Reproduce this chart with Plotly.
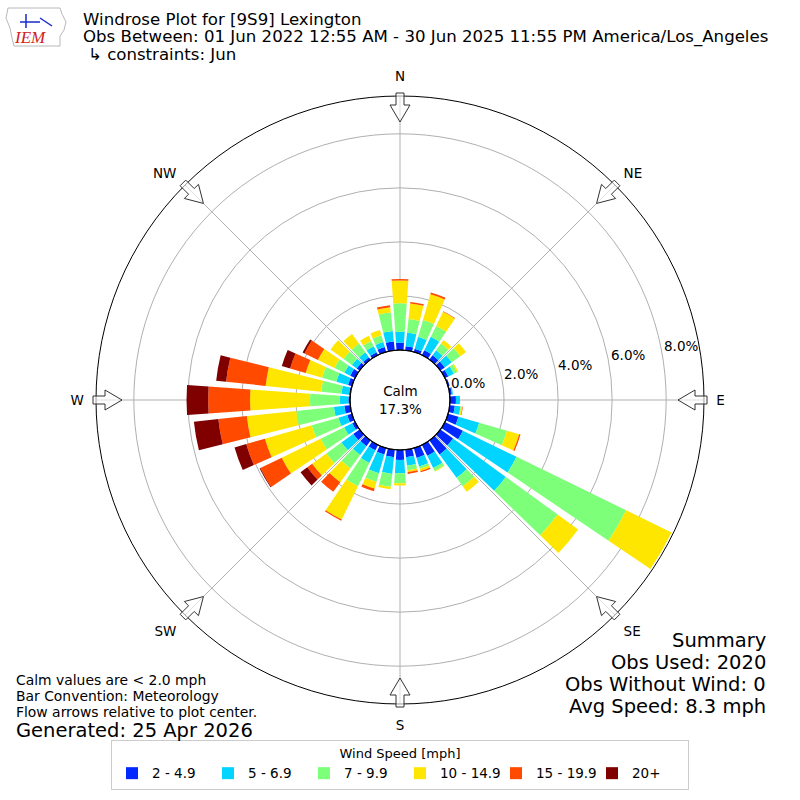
import math

import plotly.graph_objects as go

# wind directions (degrees, meteorological) and percent frequency per speed bin
directions = list(range(0, 360, 10))

speed_bins = ["2 - 4.9", "5 - 6.9", "7 - 9.9", "10 - 14.9", "15 - 19.9", "20+"]
bin_colors = ["#0028ff", "#00d4ff", "#7dff7a", "#ffe600", "#ff4a00", "#800000"]

pct_2_5 = [0.27, 0.15, 0.12, 0.20, 0.20, 0.20, 0.14, 0.06, 0.08, 0.22, 0.19, 0.40,
           0.74, 0.58, 0.64, 0.45, 0.38, 0.28, 0.37, 0.28, 0.25, 0.22, 0.26, 0.29,
           0.12, 0.18, 0.22, 0.06, 0.05, 0.15, 0.20, 0.13, 0.11, 0.12, 0.19, 0.33]
pct_5_7 = [0.41, 0.51, 0.46, 0.55, 0.22, 0.32, 0.23, 0.00, 0.04, 0.15, 0.21, 0.80,
           2.21, 2.41, 1.07, 0.50, 0.33, 0.31, 0.49, 0.62, 0.72, 0.52, 0.40, 0.54,
           0.33, 0.34, 0.39, 0.31, 0.28, 0.45, 0.24, 0.22, 0.22, 0.24, 0.19, 0.39]
pct_7_10 = [1.05, 0.50, 0.65, 0.45, 0.31, 0.39, 0.13, 0.00, 0.00, 0.00, 0.02, 1.07,
            4.51, 2.37, 0.39, 0.12, 0.09, 0.17, 0.37, 0.48, 0.33, 0.96, 0.61, 0.69,
            0.97, 1.03, 1.40, 1.11, 0.75, 0.55, 0.41, 0.38, 0.40, 0.22, 0.26, 0.69]
pct_10_15 = [0.84, 0.58, 0.99, 0.58, 0.16, 0.26, 0.05, 0.00, 0.00, 0.00, 0.05, 0.47,
             1.87, 0.94, 0.25, 0.03, 0.08, 0.07, 0.08, 0.09, 0.26, 1.37, 0.64, 0.65,
             1.60, 1.80, 1.84, 2.22, 2.07, 0.63, 0.68, 0.60, 0.44, 0.21, 0.20, 0.19]
pct_15_20 = [0.06, 0.06, 0.07, 0.02, 0.00, 0.00, 0.00, 0.00, 0.00, 0.00, 0.02, 0.05,
             0.00, 0.00, 0.00, 0.00, 0.05, 0.07, 0.00, 0.00, 0.10, 0.05, 0.44, 0.22,
             0.88, 0.72, 1.06, 1.55, 1.47, 0.60, 0.55, 0.00, 0.00, 0.00, 0.00, 0.08]
pct_20p = [0.00, 0.00, 0.00, 0.00, 0.00, 0.00, 0.00, 0.00, 0.00, 0.00, 0.00, 0.00,
           0.00, 0.00, 0.00, 0.00, 0.00, 0.00, 0.00, 0.00, 0.00, 0.00, 0.00, 0.31,
           0.03, 0.45, 0.91, 0.80, 0.37, 0.32, 0.08, 0.00, 0.00, 0.00, 0.00, 0.00]

compass_angles = [0, 45, 90, 135, 180, 225, 270, 315]
compass_labels = ["N", "NE", "E", "SE", "S", "SW", "W", "NW"]
radial_ticks = [0, 2, 4, 6, 8]
r_max = 9.4

calm_pct = 17.3
summary_lines = ["Summary", "Obs Used: 2020", "Obs Without Wind: 0",
                 "Avg Speed: 8.3 mph"]
note_lines = ["Calm values are < 2.0 mph", "Bar Convention: Meteorology",
              "Flow arrows relative to plot center."]
title_lines = ["Windrose Plot for [9S9] Lexington",
               "Obs Between: 01 Jun 2022 12:55 AM - 30 Jun 2025 11:55 PM America/Los_Angeles",
               "↳ constraints: Jun"]

FONT = "DejaVu Sans"
W = H = 800
CX, CY, R_OUT, R_HOLE = 400, 400, 304, 50


def px(x, y):
    # pixel (from top-left) -> paper coords
    return x / W, 1 - y / H


fig = go.Figure()
series = [pct_2_5, pct_5_7, pct_7_10, pct_10_15, pct_15_20, pct_20p]
for name, color, vals in zip(speed_bins, bin_colors, series):
    fig.add_trace(go.Barpolar(
        r=vals, theta=directions, width=8, name=name,
        marker=dict(color=color, line=dict(width=0)),
    ))

# flow arrows at compass points, straddling the outer circle
shapes = []
for ang in compass_angles:
    a = math.radians(ang)
    ux, uy = math.sin(a), -math.cos(a)
    vx, vy = math.cos(a), math.sin(a)
    pts = [(307, -4), (295, -4), (295, -10), (278, 0), (295, 10), (295, 4), (307, 4)]
    path = ""
    for i, (r, w) in enumerate(pts):
        x, y = px(CX + r * ux + w * vx, CY + r * uy + w * vy)
        path += ("M" if i == 0 else "L") + f"{x:.5f},{y:.5f} "
    shapes.append(dict(type="path", path=path + "Z", xref="paper", yref="paper",
                       fillcolor="rgba(255,255,255,0.6)",
                       line=dict(color="#333333", width=1), layer="above"))

# calm circle
x0, y1 = px(CX - R_HOLE, CY - R_HOLE)
x1, y0 = px(CX + R_HOLE, CY + R_HOLE)
shapes.append(dict(type="circle", xref="paper", yref="paper", x0=x0, x1=x1,
                   y0=y0, y1=y1, line=dict(color="black", width=1.2)))

# rough IEM logo outline
logo = [(8, 8), (60, 8), (62, 14), (66, 22), (64, 30), (60, 36), (60, 46),
        (14, 46), (12, 38), (10, 28), (6, 18)]
lp = ""
for i, (x, y) in enumerate(logo):
    xx, yy = px(x, y)
    lp += ("M" if i == 0 else "L") + f"{xx:.5f},{yy:.5f} "
shapes.append(dict(type="path", path=lp + "Z", xref="paper", yref="paper",
                   line=dict(color="#b8b8b8", width=1)))
bp = ""
for seg in [[(20, 22), (40, 22)], [(26, 14), (26, 28)], [(40, 18), (52, 26)]]:
    for i, (x, y) in enumerate(seg):
        xx, yy = px(x, y)
        bp += ("M" if i == 0 else "L") + f"{xx:.5f},{yy:.5f} "
shapes.append(dict(type="path", path=bp, xref="paper", yref="paper",
                   line=dict(color="#1a2bd0", width=1.5)))

annotations = []
for i, t in enumerate(title_lines):
    x, y = px(81 if i < 2 else 86, 19 + 18 * i)
    annotations.append(dict(text=t, x=x, y=y, xref="paper", yref="paper",
                            xanchor="left", yanchor="middle", showarrow=False,
                            font=dict(size=16.6, family=FONT, color="black")))
lx, ly = px(30, 38)
annotations.append(dict(text="<i>IEM</i>", x=lx, y=ly, xref="paper", yref="paper",
                        xanchor="center", yanchor="middle", showarrow=False,
                        font=dict(size=17, family="Liberation Serif", color="#d42020")))
for i, t in enumerate(summary_lines):
    x, y = px(768, 640 + 22 * i)
    annotations.append(dict(text=t, x=x, y=y, xref="paper", yref="paper",
                            xanchor="right", yanchor="middle", showarrow=False,
                            font=dict(size=19.5, family=FONT, color="black")))
for i, t in enumerate(note_lines):
    x, y = px(14, 680 + 16 * i)
    annotations.append(dict(text=t, x=x, y=y, xref="paper", yref="paper",
                            xanchor="left", yanchor="middle", showarrow=False,
                            font=dict(size=13.9, family=FONT, color="black")))
x, y = px(14, 730)
annotations.append(dict(text="Generated: 25 Apr 2026", x=x, y=y, xref="paper",
                        yref="paper", xanchor="left", yanchor="middle",
                        showarrow=False,
                        font=dict(size=19.5, family=FONT, color="black")))
annotations.append(dict(text=f"Calm<br>{calm_pct:.1f}%", x=0.5, y=0.5,
                        xref="paper", yref="paper", showarrow=False,
                        font=dict(size=13.5, family=FONT, color="black")))

# radial tick labels, placed like matplotlib's rlabels (horizontal text)
px_per_pct = (R_OUT - R_HOLE) / r_max
lab_ang = math.radians(10)
for v in radial_ticks:
    rp = R_HOLE + v * px_per_pct
    x, y = px(CX + rp * math.cos(lab_ang) + 19, CY - rp * math.sin(lab_ang) - 8)
    annotations.append(dict(text=f"{v:.1f}%", x=x, y=y, xref="paper",
                            yref="paper", showarrow=False,
                            xanchor="center", yanchor="middle",
                            font=dict(size=13.5, family=FONT, color="black")))

dom = [(CX - R_OUT) / W, (CX + R_OUT) / W]
fig.update_layout(
    width=W, height=H,
    margin=dict(l=0, r=0, t=0, b=0),
    paper_bgcolor="white",
    font=dict(family=FONT, size=13, color="black"),
    polar=dict(
        domain=dict(x=dom, y=dom),
        bgcolor="rgba(0,0,0,0)",
        hole=R_HOLE / R_OUT,
        barmode="stack",
        angularaxis=dict(
            direction="clockwise", rotation=90,
            tickmode="array", tickvals=compass_angles, ticktext=compass_labels,
            showline=True, linecolor="black", linewidth=1,
            gridcolor="#b0b0b0", ticks="outside", ticklen=9,
            tickcolor="rgba(0,0,0,0)", tickfont=dict(size=13.5),
        ),
        radialaxis=dict(
            range=[0, r_max], showline=False, ticks="",
            tickmode="array", tickvals=radial_ticks, showticklabels=False,
            gridcolor="#b0b0b0",
        ),
    ),
    legend=dict(
        orientation="h", x=0.5, xanchor="center", y=10 / H, yanchor="bottom",
        title=dict(text="Wind Speed [mph]", side="top center", font=dict(size=13)),
        bordercolor="#cccccc", borderwidth=1, font=dict(size=13.5),
        traceorder="normal", entrywidth=51, entrywidthmode="pixels",
    ),
    shapes=shapes,
    annotations=annotations,
    showlegend=True,
)

fig.write_html("out.html", config={"displayModeBar": False},
               post_script="document.body.style.margin='0';")
